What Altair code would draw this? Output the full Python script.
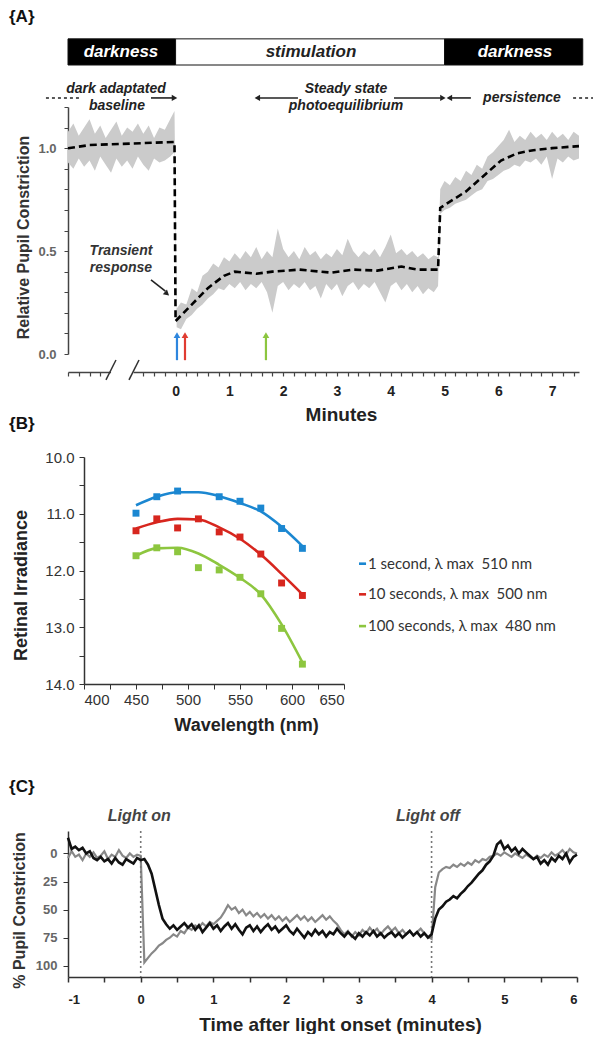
import altair as alt
import pandas as pd

FONT = "Liberation Sans"

# ---------------- Panel A : relative pupil constriction ----------------
A_T = ([round(-2.0 + 0.1 * i, 2) for i in range(20)] + [-0.02]
       + [0.02] + [round(0.1 * i, 2) for i in range(1, 49)] + [4.88]
       + [4.92] + [round(5.0 + 0.1 * i, 2) for i in range(26)])
A_HI = [1.08, 1.12, 1.06, 1.10, 1.14, 1.07, 1.11, 1.05, 1.09, 1.13,
        1.06, 1.10, 1.08, 1.12, 1.07, 1.11, 1.05, 1.10, 1.09, 1.14, 1.18,
        0.22, 0.25, 0.24, 0.32, 0.30, 0.38, 0.40, 0.44, 0.42, 0.47,
        0.45, 0.49, 0.46, 0.50, 0.47, 0.52, 0.46, 0.50, 0.47, 0.61,
        0.51, 0.47, 0.50, 0.46, 0.52, 0.48, 0.50, 0.46, 0.49, 0.47,
        0.51, 0.48, 0.56, 0.50, 0.47, 0.50, 0.48, 0.51, 0.47, 0.52,
        0.58, 0.49, 0.51, 0.48, 0.50, 0.47, 0.49, 0.46, 0.48, 0.47,
        0.80, 0.84, 0.82, 0.86, 0.84, 0.89, 0.87, 0.92, 0.90, 0.96,
        0.98, 1.01, 1.04, 1.09, 1.03, 1.06, 1.04, 1.08, 1.05, 1.07,
        1.04, 1.08, 1.05, 1.07, 1.04, 1.08, 1.06]
A_LO = [0.93, 0.90, 0.95, 0.91, 0.94, 0.89, 0.96, 0.92, 0.88, 0.95,
        0.91, 0.94, 0.90, 0.96, 0.92, 0.89, 0.95, 0.93, 0.94, 0.96, 0.98,
        0.13, 0.12, 0.17, 0.19, 0.22, 0.24, 0.27, 0.29, 0.32, 0.31,
        0.34, 0.32, 0.35, 0.31, 0.34, 0.32, 0.35, 0.30, 0.20, 0.33,
        0.35, 0.31, 0.34, 0.32, 0.35, 0.31, 0.33, 0.27, 0.34, 0.31,
        0.34, 0.28, 0.33, 0.35, 0.31, 0.34, 0.32, 0.35, 0.30, 0.25,
        0.33, 0.35, 0.31, 0.34, 0.30, 0.33, 0.29, 0.32, 0.30, 0.33,
        0.68, 0.70, 0.71, 0.73, 0.74, 0.75, 0.77, 0.79, 0.80, 0.84,
        0.85, 0.87, 0.89, 0.90, 0.92, 0.91, 0.94, 0.93, 0.95, 0.92,
        0.96, 0.85, 0.95, 0.93, 0.96, 0.94, 0.95]
FIT_T = [-2.0, -1.6, -0.02, 0.0, 0.3, 0.6, 0.9, 1.1, 1.5, 1.8, 2.3, 2.9, 3.3,
         3.75, 4.2, 4.5, 4.88, 4.92, 5.4, 6.05, 6.35, 6.65, 7.0, 7.5]
FIT_V = [1.00, 1.015, 1.03, 0.16, 0.24, 0.32, 0.38, 0.40, 0.39, 0.40, 0.41, 0.395, 0.41,
         0.405, 0.425, 0.41, 0.41, 0.71, 0.79, 0.94, 0.975, 0.99, 1.0, 1.01]

BAR_START = [-2.0, 0.0, 5.0]
BAR_END = [0.0, 5.0, 7.57]
BAR_LABEL = ["darkness", "stimulation", "darkness"]
BAR_MID = [-1.015, 2.517, 6.31]
BAR_FILL = ["#000000", "#ffffff", "#000000"]
BAR_TEXTCOL = ["#ffffff", "#222222", "#ffffff"]

ANN_TEXT = ["dark adaptated", "baseline", "Steady state", "photoequilibrium", "persistence"]
ANN_X = [-1.108, -1.09, 3.167, 3.167, 6.44]
ANN_Y = [1.288, 1.205, 1.288, 1.205, 1.244]

ARROW_Y = 1.244
SOLID_X1 = [-0.457, 1.55, 4.06, 5.12]
SOLID_X2 = [-0.05, 2.275, 4.93, 5.49]
DASH_X1 = [-2.41, 7.39]
DASH_X2 = [-1.76, 7.76]
HEAD_X = [-0.02, 1.52, 4.97, 5.09]
HEAD_SHAPE = ["triangle-right", "triangle-left", "triangle-right", "triangle-left"]

STIM_ARROW_X = [0.026, 0.175, 1.68]
STIM_ARROW_COL = ["#2e86de", "#e03c31", "#8cc63f"]

# ---------------- Panel B : action spectra ----------------
WL = [450, 470, 490, 510, 530, 550, 570, 590, 610]
B_1S = [10.99, 10.70, 10.60, None, 10.70, 10.78, 10.90, 11.26, 11.61]
B_10S = [11.30, 11.09, 11.25, 11.09, 11.32, 11.41, 11.71, 12.22, 12.44]
B_100S = [11.74, 11.60, 11.67, 11.95, 11.99, 12.12, 12.41, 13.02, 13.65]
FIT_1S = [10.85, 10.70, 10.62, 10.62, 10.69, 10.81, 10.96, 11.23, 11.57]
FIT_10S = [11.26, 11.15, 11.09, 11.10, 11.24, 11.44, 11.72, 12.06, 12.42]
FIT_100S = [11.74, 11.61, 11.60, 11.70, 11.90, 12.13, 12.42, 12.95, 13.62]
SERIES = ["1 second, \u03bb max\u00a0 510 nm", "10 seconds, \u03bb max\u00a0 500 nm",
          "100 seconds, \u03bb max\u00a0 480 nm"]
SERIES_COL = ["#1b87d1", "#d7261e", "#8dc63f"]
LEG_Y = [11.88, 12.42, 12.98]

# ---------------- Panel C : pupil constriction traces ----------------
C_T = [round(-1.0 + 0.05 * i, 2) for i in range(141)]
C_BLACK = [-14, -4, -6, -3, -5, 0, -2, 4, 6, 3,
           7, 5, 9, 4, 8, 10, 5, 7, 9, 4,
           6, 5, 10, 18, 32, 46, 58, 63, 67, 64,
           68, 65, 62, 66, 63, 68, 64, 70, 66, 62,
           67, 64, 69, 65, 62, 67, 63, 68, 72, 66,
           64, 69, 65, 70, 66, 63, 68, 65, 70, 67,
           64, 69, 72, 67, 71, 75, 70, 73, 68, 72,
           69, 74, 70, 72, 67, 71, 74, 70, 73, 76,
           71, 74, 70, 73, 69, 74, 71, 75, 72, 70,
           74, 71, 75, 72, 69, 73, 70, 74, 71, 75,
           72, 58, 50, 47, 43, 41, 38, 40, 36, 33,
           29, 26, 22, 18, 15, 10, 7, 2, -8, -11,
           -4, -7, -2, -5, 0, -4, -1, 2, 5, 3,
           9, 6, 10, 4, 7, 2, 5, 0, 8, 3,
           1]
C_GRAY = [4, -2, 3, 1, 6, 0, 3, -1, 4, 2,
          -2, 5, 1, 3, -3, 2, 4, 0, 3, 1,
          2, 97, 93, 89, 86, 82, 80, 77, 75, 72,
          74, 69, 71, 66, 68, 64, 66, 62, 65, 61,
          63, 60, 57, 52, 46, 50, 48, 53, 50, 55,
          52, 56, 53, 57, 54, 58, 55, 59, 56, 60,
          57, 61, 58, 55, 59, 56, 60, 57, 61, 58,
          55, 59, 56, 60, 63, 68, 72, 69, 74, 70,
          73, 68, 71, 66, 70, 67, 72, 68, 65, 69,
          66, 71, 68, 72, 69, 73, 70, 67, 71, 74,
          76, 30, 17, 14, 12, 13, 10, 12, 9, 11,
          8, 10, 6, 8, 5, 6, 3, 2, 0, 2,
          -1, 1, 3, 0, 2, 4, 1, 3, 5, 2,
          4, 1, 3, -1, 2, 0, -3, 1, -4, -1,
          0]
assert len(A_T) == len(A_HI) == len(A_LO)
assert len(C_T) == len(C_BLACK) == len(C_GRAY)

INT_TEST = "abs(datum.value - round(datum.value)) < 0.001"

# =================== panel A ===================
a_band = pd.DataFrame({"t": A_T, "hi": A_HI, "lo": A_LO})
a_fit = pd.DataFrame({"t": FIT_T, "v": FIT_V})
a_xticks = [v for v in [round(-2 + 0.2 * i, 1) for i in range(48)] if not (-1.3 < v < -0.7)]
a_yticks = [round(0.1 * i, 1) for i in range(13)]

xA = alt.X("t:Q", scale=alt.Scale(domain=[-2, 7.5], nice=False, zero=False),
           axis=alt.Axis(values=a_xticks, tickCount=500, offset=18, labelOverlap=False,
                         labelExpr="datum.value > -0.01 && " + INT_TEST + " ? toString(round(datum.value)) : ' '",
                         tickSize=4, title="Minutes", titleFontSize=19, titleFontWeight="bold",
                         titleColor="#222", titleX=273, titlePadding=7, labelFontSize=14,
                         labelFontWeight="bold", labelColor="#222", labelPadding=8, domainColor="#444",
                         domainWidth=1.5, tickColor="#444", tickWidth=1.2, grid=False))
yA = alt.Y("lo:Q", scale=alt.Scale(domain=[0, 1.2], nice=False, zero=False),
           axis=alt.Axis(values=a_yticks, tickCount=500, labelOverlap=False,
                         labelExpr="abs(datum.value*2 - round(datum.value*2)) < 0.001 ? format(datum.value, '.1f') : ' '",
                         title="Relative Pupil Constriction", titleFontSize=16, titleFontWeight="bold",
                         titleColor="#333", titlePadding=6, titleY=130, labelFontSize=13,
                         labelFontWeight="bold", labelColor="#666", labelPadding=8, tickSize=4,
                         domainColor="#444", domainWidth=1.5, tickColor="#444", grid=False))

band = alt.Chart(a_band).mark_area(color="#cbcbcb").encode(x=xA, y=yA, y2="hi:Q")
fit = alt.Chart(a_fit).mark_line(color="#000", strokeDash=[7, 4], strokeWidth=2.6).encode(
    x="t:Q", y="v:Q")

bar_df = pd.DataFrame({"s": BAR_START, "e": BAR_END, "lab": BAR_LABEL, "mid": BAR_MID,
                       "fill": BAR_FILL, "tc": BAR_TEXTCOL})
bars = alt.Chart(bar_df).mark_rect(stroke="#111", strokeWidth=1).encode(
    x="s:Q", x2="e:Q", y=alt.datum(1.404), y2=alt.datum(1.531),
    color=alt.Color("fill:N", scale=None))
bar_txt = alt.Chart(bar_df).mark_text(font=FONT, fontSize=17, fontWeight="bold", fontStyle="italic").encode(
    x="mid:Q", y=alt.datum(1.467), text="lab:N", color=alt.Color("tc:N", scale=None))

ann_df = pd.DataFrame({"x": ANN_X, "y": ANN_Y, "txt": ANN_TEXT})
ann = alt.Chart(ann_df).mark_text(font=FONT, fontSize=14, fontWeight="bold", fontStyle="italic",
                                  color="#222").encode(x="x:Q", y="y:Q", text="txt:N")
solid = alt.Chart(pd.DataFrame({"x": SOLID_X1, "x2": SOLID_X2})).mark_rule(
    color="#222", strokeWidth=1.6).encode(x="x:Q", x2="x2:Q", y=alt.datum(ARROW_Y))
dashed = alt.Chart(pd.DataFrame({"x": DASH_X1, "x2": DASH_X2})).mark_rule(
    color="#222", strokeWidth=1.6, strokeDash=[3, 3]).encode(x="x:Q", x2="x2:Q", y=alt.datum(ARROW_Y))
heads = alt.Chart(pd.DataFrame({"x": HEAD_X, "shape": HEAD_SHAPE})).mark_point(
    filled=True, color="#222", size=40, opacity=1).encode(
    x="x:Q", y=alt.datum(ARROW_Y), shape=alt.Shape("shape:N", scale=None))

stim_df = pd.DataFrame({"x": STIM_ARROW_X, "c": STIM_ARROW_COL})
stim_rule = alt.Chart(stim_df).mark_rule(strokeWidth=2.2).encode(
    x="x:Q", y=alt.datum(-0.03), y2=alt.datum(0.085), color=alt.Color("c:N", scale=None))
stim_head = alt.Chart(stim_df).mark_point(shape="triangle-up", filled=True, size=45, opacity=1).encode(
    x="x:Q", y=alt.datum(0.092), color=alt.Color("c:N", scale=None))

trans_txt = alt.Chart(pd.DataFrame({"x": [-1.015, -1.015], "y": [0.50, 0.418],
                                    "txt": ["Transient", "response"]})).mark_text(
    font=FONT, fontSize=14, fontWeight="bold", fontStyle="italic", color="#333").encode(
    x="x:Q", y="y:Q", text="txt:N")
trans_line = alt.Chart(pd.DataFrame({"x": [-0.457], "y": [0.36], "x2": [-0.19], "y2": [0.305]})).mark_rule(
    color="#222", strokeWidth=1.6).encode(x="x:Q", y="y:Q", x2="x2:Q", y2="y2:Q")
trans_head = alt.Chart(pd.DataFrame({"x": [-0.16], "y": [0.293]})).mark_point(
    shape="triangle-right", angle=41, filled=True, size=40, color="#222", opacity=1).encode(
    x="x:Q", y="y:Q")

gap = alt.Chart(pd.DataFrame({"x": [-1.2], "x2": [-0.78]})).mark_rule(color="white", strokeWidth=5).encode(
    x="x:Q", x2="x2:Q", y=alt.datum(-0.0875))
slash = alt.Chart(pd.DataFrame({"x": [-1.108, -0.68], "y": [-0.029, -0.029],
                                "x2": [-1.294, -0.866], "y2": [-0.126, -0.126]})).mark_rule(
    color="#333", strokeWidth=1.5).encode(x="x:Q", y="y:Q", x2="x2:Q", y2="y2:Q")

lab_a = alt.Chart(pd.DataFrame({"x": [-3.097], "y": [1.637], "txt": ["{A}"]})).mark_text(
    font=FONT, fontSize=17, fontWeight="bold", align="left", color="#111").encode(
    x="x:Q", y="y:Q", text="txt:N")

chartA = alt.layer(band, fit, bars, bar_txt, ann, solid, dashed, heads, stim_rule, stim_head,
                   trans_txt, trans_line, trans_head, gap, slash, lab_a).properties(width=511, height=247)

# =================== panel B ===================
pts = []
fits = []
for name, col, obs, ft in zip(SERIES, SERIES_COL, [B_1S, B_10S, B_100S], [FIT_1S, FIT_10S, FIT_100S]):
    for w, o, f in zip(WL, obs, ft):
        if o is not None:
            pts.append({"wl": w, "v": o, "c": col})
        fits.append({"wl": w, "v": f, "c": col, "s": name})
pts_df = pd.DataFrame(pts)
fit_df = pd.DataFrame(fits)

xB = alt.X("wl:Q", scale=alt.Scale(domain=[400, 650], range=[16, 276], nice=False, zero=False),
           axis=alt.Axis(values=list(range(400, 651, 25)), tickCount=500, labelOverlap=False,
                         labelExpr="datum.value % 50 == 0 ? toString(datum.value) : ' '",
                         title="Wavelength (nm)", titleFontSize=18, titleFontWeight="bold", titleColor="#222",
                         titleX=178, titlePadding=9, labelFontSize=15, labelColor="#333", labelPadding=3,
                         tickSize=5, domainColor="#333", domainWidth=1.5, tickColor="#333", grid=False))
yB = alt.Y("v:Q", scale=alt.Scale(domain=[10, 14], reverse=True, nice=False, zero=False),
           axis=alt.Axis(values=[10 + 0.5 * i for i in range(9)], tickCount=500, labelOverlap=False, offset=-16,
                         labelExpr=INT_TEST + " ? format(datum.value, '.1f') : ' '",
                         title="Retinal Irradiance", titleFontSize=18, titleFontWeight="bold", titleColor="#222",
                         titlePadding=14, titleY=128, labelFontSize=15, labelColor="#333", labelPadding=5,
                         tickSize=5, domainColor="#333", domainWidth=1.5, tickColor="#333", grid=False))

b_lines = alt.Chart(fit_df).mark_line(interpolate="monotone", strokeWidth=2.6).encode(
    x=xB, y=yB, color=alt.Color("c:N", scale=None), detail="s:N")
b_pts = alt.Chart(pts_df).mark_square(size=48, opacity=1).encode(
    x="wl:Q", y="v:Q", color=alt.Color("c:N", scale=None))
leg_df = pd.DataFrame({"y": LEG_Y, "c": SERIES_COL, "txt": SERIES})
leg_rule = alt.Chart(leg_df).mark_rule(strokeWidth=2.6).encode(
    x=alt.datum(664.4), x2=alt.datum(671.2), y="y:Q", color=alt.Color("c:N", scale=None))
leg_txt = alt.Chart(leg_df).mark_text(font="Lato", fontSize=15, align="left", color="#333").encode(
    x=alt.datum(673.1), y="y:Q", text="txt:N")
lab_b = alt.Chart(pd.DataFrame({"x": [327.9], "y": [9.42], "txt": ["{B}"]})).mark_text(
    font=FONT, fontSize=17, fontWeight="bold", align="left", color="#111").encode(
    x="x:Q", y="y:Q", text="txt:N")

chartB = alt.layer(b_lines, b_pts, leg_rule, leg_txt, lab_b).properties(width=276, height=227)

# =================== panel C ===================
c_df = pd.DataFrame({"t": C_T, "black": C_BLACK, "gray": C_GRAY})
xC = alt.X("t:Q", scale=alt.Scale(domain=[-1, 6], nice=False, zero=False),
           axis=alt.Axis(values=[-1 + 0.5 * i for i in range(15)], tickCount=500, labelOverlap=False,
                         labelExpr=INT_TEST + " ? toString(round(datum.value)) : ' '",
                         title="Time after light onset (minutes)", titleFontSize=19, titleFontWeight="bold",
                         titleColor="#222", titleX=272, titlePadding=9, labelFontSize=13,
                         labelFontWeight="bold", labelColor="#222", labelPadding=11, tickSize=5,
                         domainColor="#333", domainWidth=1.5, tickColor="#333", tickWidth=1.5, grid=False))
yC = alt.Y("gray:Q", scale=alt.Scale(domain=[-20, 110], range=[44, 190], nice=False, zero=False),
           axis=alt.Axis(values=[0, 25, 50, 75, 100], tickCount=500, labelOverlap=False, format="d",
                         title="% Pupil Constriction", titleFontSize=16, titleFontWeight="bold",
                         titleColor="#333", titlePadding=8, titleY=123, labelFontSize=13,
                         labelFontWeight="bold", labelColor="#666", labelPadding=6, tickSize=5,
                         domainColor="#333", domainWidth=1.5, tickColor="#333", grid=False))
c_vlines = alt.Chart(pd.DataFrame({"x": [0, 4]})).mark_rule(
    color="#777", strokeDash=[2, 3], strokeWidth=1.6).encode(
    x="x:Q", y=alt.datum(-20), y2=alt.datum(110))
c_gray = alt.Chart(c_df).mark_line(color="#888888", strokeWidth=2.2).encode(x=xC, y=yC)
c_black = alt.Chart(c_df).mark_line(color="#111111", strokeWidth=2.6).encode(x="t:Q", y="black:Q")
c_txt = alt.Chart(pd.DataFrame({"x": [-0.02, 3.95], "y": [-33.5, -33.5],
                                "txt": ["Light on", "Light off"]})).mark_text(
    font=FONT, fontSize=16, fontWeight="bold", fontStyle="italic", color="#444").encode(
    x="x:Q", y="y:Q", text="txt:N")
lab_c = alt.Chart(pd.DataFrame({"x": [-1.81], "y": [-59.2], "txt": ["{C}"]})).mark_text(
    font=FONT, fontSize=17, fontWeight="bold", align="left", color="#111").encode(
    x="x:Q", y="y:Q", text="txt:N")

chartC = alt.layer(c_gray, c_vlines, c_black, c_txt, lab_c).properties(width=509, height=190)

# =================== compose ===================
chart = alt.vconcat(chartA, chartB, chartC, spacing=103, bounds="flush").properties(
    padding=0).configure(font=FONT).configure_view(strokeWidth=0).configure_axis(labelOverlap=False)

chart.save("out.html", embed_options={"renderer": "svg", "actions": False})
